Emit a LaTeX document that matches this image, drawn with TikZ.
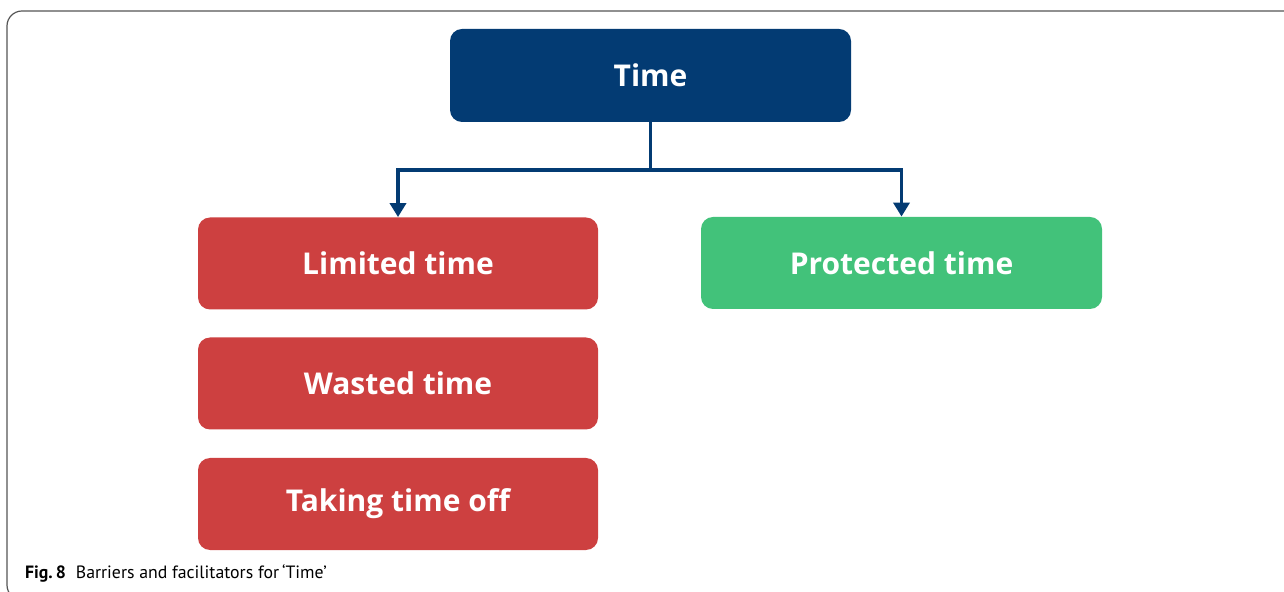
\documentclass[tikz,border=0pt]{standalone}
\usepackage{fontspec}
\setmainfont{Open Sans}
\newfontfamily\capfont{PT Sans}
\usetikzlibrary{arrows.meta}
\definecolor{timeblue}{HTML}{033B73}
\definecolor{barred}{HTML}{CD4040}
\definecolor{facgreen}{HTML}{42C27A}
\definecolor{framegray}{HTML}{555555}
\begin{document}
\begin{tikzpicture}[
                x=0.5pt, y=-0.5pt,
                every node/.style={font=\fontsize{15}{18}\selectfont\bfseries, text=white},
                themebox/.style={rectangle, rounded corners=6pt, minimum width=200.5pt, minimum height=46.5pt, fill=timeblue},
                barrier/.style={rectangle, rounded corners=6pt, minimum width=200pt, minimum height=46pt, fill=barred},
                facilitator/.style={rectangle, rounded corners=6pt, minimum width=200.5pt, minimum height=46pt, fill=facgreen},
                link/.style={-{Triangle[width=8pt,length=7pt]}, line width=1.9pt, draw=timeblue}
            ]
                \useasboundingbox (0,0) rectangle (1284,592);
                \clip (0,0) rectangle (1284,592);

                % Figure frame
                \draw[framegray, line width=0.6pt, rounded corners=7.5pt] (1290,11) -- (7,11) -- (7,600) -- (40,600);

                % Main theme
                \node[themebox] (time) at (650.5,75.5) {Time};

                % Barriers
                \node[barrier] (limited) at (398,263.5) {Limited time};
                \node[barrier] (wasted)  at (398,383.5) {Wasted time};
                \node[barrier] (timeoff) at (398,504)   {Taking time off};

                % Facilitators
                \node[facilitator] (protected) at (901.5,263) {Protected time};

                % Connectors
                \coordinate (split) at (650.5,170);
                \draw[link] (time.south) -- (split) -| (limited.north);
                \draw[link] (split) -| (protected.north);

                % Caption
                \node[font=\capfont\fontsize{8.9}{11}\selectfont, text=black, anchor=base west] (caption) at (18,578)
                    {\textbf{Fig.\,8}\hspace{5pt}Barriers and facilitators for\,‘Time’};
            \end{tikzpicture}
\end{document}
